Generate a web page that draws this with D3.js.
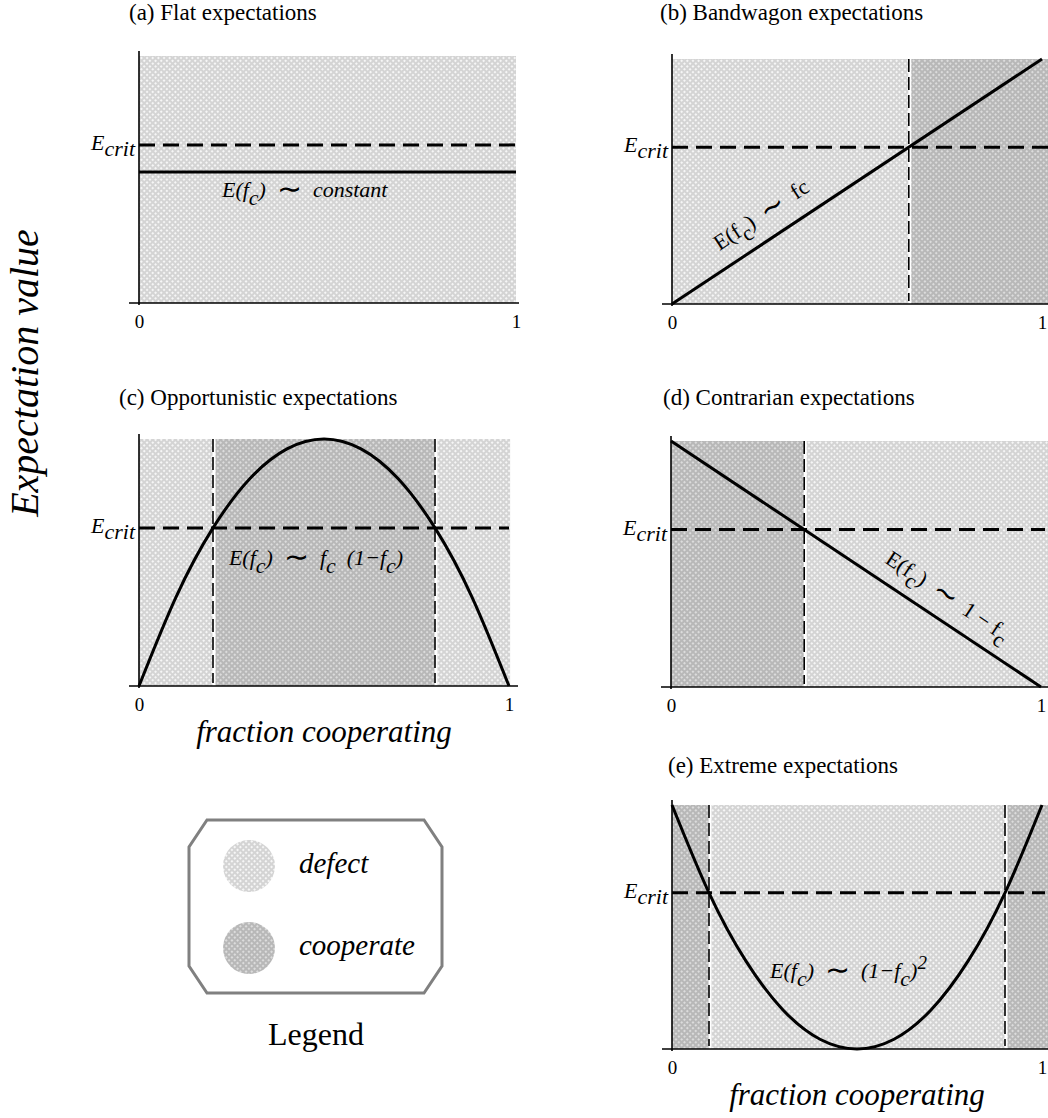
<!DOCTYPE html>
<html>
<head>
<meta charset="utf-8">
<script src="https://cdn.jsdelivr.net/npm/d3@7"></script>
<style>
  body { margin: 0; background: #fff; }
  text { font-family: "Liberation Serif", "Times New Roman", serif; fill: #000; }
</style>
</head>
<body>
<div id="chart"></div>
<script>
const width = 1048;
const height = 1118;

// values
const panelTitles = [
    "(a) Flat expectations",
    "(b) Bandwagon expectations",
    "(c) Opportunistic expectations",
    "(d) Contrarian expectations",
    "(e) Extreme expectations"
];
const tickLabels = ["0", "1"];
const eCrit = 0.64;

const flatFc = [0, 1];
const flatE = [0.53, 0.53];
const bandwagonFc = [0, 1];
const bandwagonE = [0, 1];
const opportunisticFc = [0, 0.1, 0.2, 0.3, 0.4, 0.5, 0.6, 0.7, 0.8, 0.9, 1];
const opportunisticE = [0, 0.36, 0.64, 0.84, 0.96, 1, 0.96, 0.84, 0.64, 0.36, 0];
const contrarianFc = [0, 1];
const contrarianE = [1, 0];
const extremeFc = [0, 0.1, 0.2, 0.3, 0.4, 0.5, 0.6, 0.7, 0.8, 0.9, 1];
const extremeE = [1, 0.64, 0.36, 0.16, 0.04, 0, 0.04, 0.16, 0.36, 0.64, 1];

// [from, to, behaviour]
const flatRegions = [[0, 1, "defect"]];
const bandwagonRegions = [[0, 0.64, "defect"], [0.64, 1.02, "cooperate"]];
const opportunisticRegions = [[0, 0.2, "defect"], [0.2, 0.8, "cooperate"], [0.8, 1.003, "defect"]];
const contrarianRegions = [[0, 0.36, "cooperate"], [0.36, 1.02, "defect"]];
const extremeRegions = [[0, 0.1, "cooperate"], [0.1, 0.9, "defect"], [0.9, 1.02, "cooperate"]];

const flatCross = [];
const bandwagonCross = [0.64];
const opportunisticCross = [0.2, 0.8];
const contrarianCross = [0.36];
const extremeCross = [0.1, 0.9];

const legendItems = ["defect", "cooperate"];

const svg = d3.select("#chart")
    .append("svg")
    .attr("width", width)
    .attr("height", height);

// hatched textures
const defs = svg.append("defs");
function makePattern(id, base, dot) {
    const p = defs.append("pattern")
        .attr("id", id)
        .attr("patternUnits", "userSpaceOnUse")
        .attr("width", 4)
        .attr("height", 4)
        .attr("patternTransform", "rotate(45)");
    p.append("rect").attr("width", 4).attr("height", 4).attr("fill", base);
    p.append("rect").attr("width", 2).attr("height", 2).attr("fill", dot);
}
makePattern("defect", "#d4d4d4", "#f6f6f6");
makePattern("cooperate", "#b8b8b8", "#dcdcdc");

const TILDE = "\u223C";

const panels = [
    { fc: flatFc, e: flatE, regions: flatRegions, cross: flatCross,
      xr: [139, 516], yr: [303, 56], dashEnd: 520, axisEnd: 519,
      titleX: 129, titleY: 20,
      label: { fc: 0.22, e: 0.43, italic: true,
               parts: [["E(f", 0], ["c", 1], [")  ", 0], [TILDE, 2], ["  constant", 0]] } },
    { fc: bandwagonFc, e: bandwagonE, regions: bandwagonRegions, cross: bandwagonCross,
      xr: [672, 1042], yr: [304, 59], dashEnd: 1048, axisEnd: 1048,
      titleX: 660, titleY: 20,
      label: { along: 0.155, offset: 18, italic: false,
               parts: [["E(f", 0], ["c", 1], [")  ", 0], [TILDE, 2], ["  f", 0], ["c", 0]] } },
    { fc: opportunisticFc, e: opportunisticE, regions: opportunisticRegions, cross: opportunisticCross,
      xr: [139, 509], yr: [686, 439], dashEnd: 509, axisEnd: 518,
      titleX: 119, titleY: 405, xTitle: true,
      label: { fc: 0.243, e: 0.49, italic: true,
               parts: [["E(f", 0], ["c", 1], [")  ", 0], [TILDE, 2], ["  f", 0], ["c", 1],
                       ["  (1\u2212f", 0], ["c", 1], [")", 0]] } },
    { fc: contrarianFc, e: contrarianE, regions: contrarianRegions, cross: contrarianCross,
      xr: [671, 1041], yr: [687, 441], dashEnd: 1045, axisEnd: 1048,
      titleX: 663, titleY: 405,
      label: { along: 0.55, offset: 17, italic: false,
               parts: [["E(f", 0], ["c", 1], [")  ", 0], [TILDE, 2], ["  1 \u2212 f", 0], ["c", 1]] } },
    { fc: extremeFc, e: extremeE, regions: extremeRegions, cross: extremeCross,
      xr: [672, 1042], yr: [1049, 805], dashEnd: 1045, axisEnd: 1048,
      titleX: 668, titleY: 773, xTitle: true,
      label: { fc: 0.265, e: 0.29, italic: true,
               parts: [["E(f", 0], ["c", 1], [")  ", 0], [TILDE, 2], ["  (1\u2212f", 0], ["c", 1],
                       [")", 0], ["2", -1]] } }
];

// level: 0 normal, 1 subscript, -1 superscript, 2 enlarged symbol
function addParts(textSel, parts) {
    let shift = 0;
    parts.forEach(([str, level]) => {
        const target = level === 1 ? 8 : level === -1 ? -9 : level === 2 ? 2 : 0;
        textSel.append("tspan")
            .attr("dy", target - shift)
            .attr("font-size", level === -1 ? "19px" : level === 2 ? "30px" : null)
            .style("font-style", level === 2 ? "normal" : null)
            .text(str);
        shift = target;
    });
}

panels.forEach((p, i) => {
    const x = d3.scaleLinear().domain([0, 1]).range(p.xr);
    const y = d3.scaleLinear().domain([0, 1]).range(p.yr);
    const g = svg.append("g");

    g.selectAll("rect.region")
        .data(p.regions)
        .enter()
        .append("rect")
        .attr("class", "region")
        .attr("x", d => x(d[0]))
        .attr("width", d => x(d[1]) - x(d[0]))
        .attr("y", y(1))
        .attr("height", y(0) - y(1))
        .attr("fill", d => `url(#${d[2]})`);

    // boundaries between regions
    g.selectAll("line.gap")
        .data(p.cross)
        .enter()
        .append("line")
        .attr("x1", d => x(d) + 1)
        .attr("x2", d => x(d) + 1)
        .attr("y1", y(1))
        .attr("y2", y(0))
        .attr("stroke", "#fff")
        .attr("stroke-width", 3);

    g.selectAll("line.vdash")
        .data(p.cross)
        .enter()
        .append("line")
        .attr("x1", d => x(d))
        .attr("x2", d => x(d))
        .attr("y1", y(1))
        .attr("y2", y(0) - 3)
        .attr("stroke", "#000")
        .attr("stroke-width", 1.6)
        .attr("stroke-dasharray", "13,5");

    g.append("line")
        .attr("x1", x(0))
        .attr("x2", p.dashEnd)
        .attr("y1", y(eCrit))
        .attr("y2", y(eCrit))
        .attr("stroke", "#000")
        .attr("stroke-width", 3)
        .attr("stroke-dasharray", "16,8");

    const pts = p.fc.map((f, k) => [f, p.e[k]]);
    const line = d3.line()
        .x(d => x(d[0]))
        .y(d => y(d[1]))
        .curve(d3.curveNatural);
    g.append("path")
        .datum(pts)
        .attr("d", line)
        .attr("fill", "none")
        .attr("stroke", "#000")
        .attr("stroke-width", 3);

    // axes
    g.append("line")
        .attr("x1", x(0)).attr("x2", x(0))
        .attr("y1", y(1) - 5).attr("y2", y(0) + 2)
        .attr("stroke", "#000").attr("stroke-width", 1.6);
    g.append("line")
        .attr("x1", x(0) - 10).attr("x2", p.axisEnd)
        .attr("y1", y(0)).attr("y2", y(0))
        .attr("stroke", "#000").attr("stroke-width", 1.6);

    const xAxis = g.append("g")
        .attr("transform", `translate(0,${y(0)})`)
        .call(d3.axisBottom(x)
            .tickValues([0, 1])
            .tickFormat((d, k) => tickLabels[k])
            .tickSize(0)
            .tickPadding(12));
    xAxis.select(".domain").remove();
    xAxis.selectAll("text")
        .attr("font-family", "Liberation Serif, serif")
        .attr("font-size", "19px");

    // E_crit label
    const ec = g.append("text")
        .attr("x", x(0) - 4)
        .attr("y", y(eCrit) + 5)
        .attr("text-anchor", "end")
        .style("font-style", "italic")
        .style("font-size", "22px");
    ec.append("tspan").text("E");
    ec.append("tspan").attr("dy", 6).text("crit");

    g.append("text")
        .attr("x", p.titleX)
        .attr("y", p.titleY)
        .style("font-size", "23px")
        .text(panelTitles[i]);

    if (p.xTitle) {
        g.append("text")
            .attr("x", (p.xr[0] + p.xr[1]) / 2)
            .attr("y", y(0) + 56)
            .attr("text-anchor", "middle")
            .style("font-style", "italic")
            .style("font-size", "31px")
            .text("fraction cooperating");
    }

    // curve annotation
    const lb = p.label;
    const t = g.append("text")
        .style("font-size", "22px")
        .style("font-style", lb.italic ? "italic" : "normal")
        .style("white-space", "pre");
    if (lb.along !== undefined) {
        const x0 = x(p.fc[0]), y0 = y(p.e[0]);
        const x1 = x(p.fc[1]), y1 = y(p.e[1]);
        const a = Math.atan2(y1 - y0, x1 - x0);
        const px = x0 + (x1 - x0) * lb.along + Math.sin(a) * lb.offset;
        const py = y0 + (y1 - y0) * lb.along - Math.cos(a) * lb.offset;
        t.attr("transform", `translate(${px},${py}) rotate(${a * 180 / Math.PI})`);
    } else {
        t.attr("x", x(lb.fc)).attr("y", y(lb.e));
    }
    addParts(t, lb.parts);
});

// y title
svg.append("text")
    .attr("transform", "translate(38,373) rotate(-90)")
    .attr("text-anchor", "middle")
    .style("font-style", "italic")
    .style("font-size", "40px")
    .text("Expectation value");

// legend
const legend = svg.append("g");
legend.append("polygon")
    .attr("points", [[207, 820], [424, 820], [442, 847], [442, 966], [424, 993],
                     [207, 993], [189, 966], [189, 847]].map(d => d.join(",")).join(" "))
    .attr("fill", "#fff")
    .attr("stroke", "#808080")
    .attr("stroke-width", 3);

const ly = d3.scalePoint().domain(legendItems).range([866, 948]);
legendItems.forEach(item => {
    legend.append("circle")
        .attr("cx", 249)
        .attr("cy", ly(item))
        .attr("r", 26)
        .attr("fill", `url(#${item})`);
    legend.append("text")
        .attr("x", 299)
        .attr("y", ly(item) + 7)
        .style("font-style", "italic")
        .style("font-size", "29px")
        .text(item);
});

legend.append("text")
    .attr("x", 316)
    .attr("y", 1045)
    .attr("text-anchor", "middle")
    .style("font-size", "32px")
    .text("Legend");
</script>
</body>
</html>
